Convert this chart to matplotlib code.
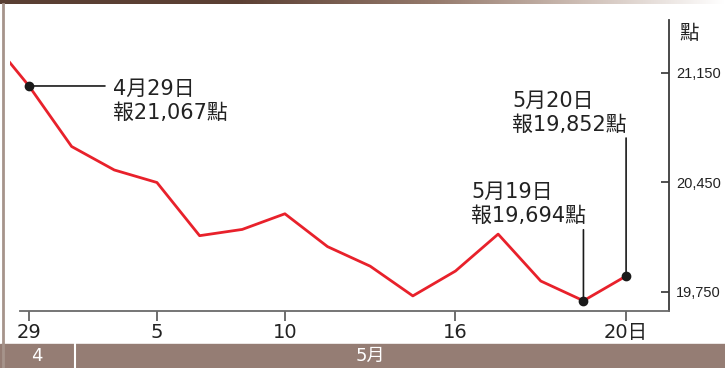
import numpy as np
import matplotlib.pyplot as plt
from matplotlib.colors import LinearSegmentedColormap
from matplotlib.patches import Rectangle
from matplotlib.lines import Line2D

# 交易日 (4/28 只露出一點，左邊被裁掉)
days = ['4/28', '4/29', '5/3', '5/4', '5/5', '5/6', '5/9', '5/10', '5/11',
        '5/12', '5/13', '5/16', '5/17', '5/18', '5/19', '5/20']
values = [21400, 21067, 20680, 20530, 20450, 20110, 20150, 20250, 20040,
          19915, 19725, 19884, 20120, 19820, 19694, 19852]
tick_days = ['4/29', '5/5', '5/10', '5/16', '5/20']
tick_labels = ['29', '5', '10', '16', '20日']
y_ticks = [19750, 20450, 21150]
y_tick_labels = ['19,750', '20,450', '21,150']

notes = {'4/29': '4月29日\n報21,067點',
         '5/19': '5月19日\n報19,694點',
         '5/20': '5月20日\n報19,852點'}

W, H = 725, 368
PX = 0.72  # points per pixel
fam = ['DejaVu Sans', 'Noto Sans CJK TC']
fam_axis = ['Liberation Sans', 'Noto Sans CJK TC']

x = np.arange(len(days)) - 1  # 4/29 -> 0
pos = dict(zip(days, x))
val = dict(zip(days, values))

fig = plt.figure(figsize=(7.25, 3.68), dpi=100)

ax = fig.add_axes([10 / W, (H - 311) / H, 659 / W, 291 / H])
ax.plot(x, values, color='#e8212b', lw=2.0, solid_joinstyle='round')
ax.set_xlim(-0.445, 15.006)
ax.set_ylim(19628.5, 21488.8)

ax.spines['top'].set_visible(False)
ax.spines['left'].set_visible(False)
ax.spines['right'].set_color('#3a3a3a')
ax.spines['right'].set_linewidth(1.3)
ax.spines['bottom'].set_color('#6a6a6a')
ax.spines['bottom'].set_linewidth(1.3)
ax.spines['bottom'].set_bounds(-0.21, 15.006)

ax.set_xticks([pos[d] for d in tick_days])
ax.set_xticklabels(tick_labels, family=fam, fontsize=14, color='#222222')
ax.tick_params(axis='x', direction='out', length=7, width=1.2,
               color='#555555', pad=2)

ax.yaxis.tick_right()
ax.set_yticks(y_ticks)
ax.set_yticklabels(y_tick_labels, family=fam_axis, fontsize=10.5,
                   color='#222222')
ax.tick_params(axis='y', direction='in', length=5.8, width=1.2,
               color='#333333', pad=5)

ax.text(1.0 + 10 / 659, 0.985, '點', transform=ax.transAxes, family=fam,
        fontsize=14, color='#222222', ha='left', va='top')

# 標註
ax.plot([pos[d] for d in notes], [val[d] for d in notes], 'o',
        color='#1a1a1a', ms=6, zorder=5)
ax.annotate('', xy=(pos['4/29'], val['4/29']), xytext=(76 * PX, 0),
            textcoords='offset points',
            arrowprops=dict(arrowstyle='-', color='#1a1a1a', lw=1.2,
                            shrinkA=0, shrinkB=0))
ax.annotate('', xy=(pos['5/19'], val['5/19']), xytext=(0, 71 * PX),
            textcoords='offset points',
            arrowprops=dict(arrowstyle='-', color='#1a1a1a', lw=1.2,
                            shrinkA=0, shrinkB=0))
ax.annotate('', xy=(pos['5/20'], val['5/20']), xytext=(0, 138 * PX),
            textcoords='offset points',
            arrowprops=dict(arrowstyle='-', color='#1a1a1a', lw=1.2,
                            shrinkA=0, shrinkB=0))

offsets = {'4/29': (84, -14.5), '5/19': (-112, 96.5), '5/20': (-114, 163)}
for d, txt in notes.items():
    dx, dy = offsets[d]
    ax.annotate(txt, xy=(pos[d], val[d]), xytext=(dx * PX, dy * PX),
                textcoords='offset points', ha='left', va='center',
                family=fam, fontsize=15, color='#222222', linespacing=1.25)

# 頂部漸層條
cmap = LinearSegmentedColormap.from_list(
    'bar', [(0, '#5a3f33'), (0.33, '#5c4034'), (0.6, '#957a6c'),
            (0.8, '#cdbdb4'), (1.0, '#ffffff')])
top = fig.add_axes([0, 1 - 4 / H, 1, 4 / H])
top.imshow(np.linspace(0, 1, 256)[None, :], cmap=cmap, aspect='auto')
top.axis('off')

# 底部月份條
fig.patches.append(Rectangle((0, 0), 1, 24 / H, transform=fig.transFigure,
                             color='#957d74', zorder=0))
fig.add_artist(Line2D([75 / W, 75 / W], [0, 24 / H], color='white', lw=1.5))
fig.text(37 / W, 3 / H, '4', family=fam, fontsize=13, color='white',
         ha='center', va='bottom')
fig.text(370 / W, 3 / H, '5月', family=fam, fontsize=13, color='white',
         ha='center', va='bottom')

fig.add_artist(Line2D([3 / W, 3 / W], [0, 1 - 4 / H], color='#a6948b', lw=2))

fig.savefig('out.png', dpi=100)
